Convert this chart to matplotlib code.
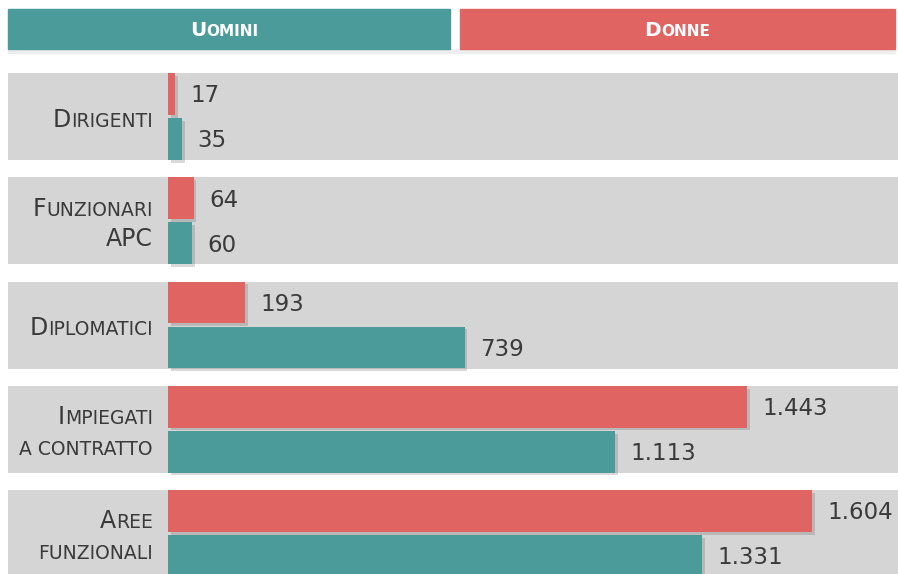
import matplotlib
matplotlib.use("Agg")
import matplotlib.pyplot as plt
import matplotlib.patheffects as pe
from matplotlib.patches import Rectangle


# DATA

categories = [
    ["Dirigenti"],
    ["Funzionari", "APC"],
    ["Diplomatici"],
    ["Impiegati", "a contratto"],
    ["Aree", "funzionali"],
]

donne = [17, 64, 193, 1443, 1604]
uomini = [35, 60, 739, 1113, 1331]

header_left = "Uomini"
header_right = "Donne"


# STYLE

teal = "#4b9b9b"
red = "#e06462"
band_gray = "#d5d5d5"
text_color = "#3a3a3a"

W, H = 898, 574
px_x = 0.4015          # pixels per unit on x
px_y = 104.25          # pixels per category row
x0_px = 168            # where the bars start
y0_px = 116.5          # centre of first row

xmin = -x0_px / px_x
xmax = (W - x0_px) / px_x
ytop = -y0_px / px_y
ybot = (H - y0_px) / px_y

bar_h = 0.40
bar_off = 0.216

plt.rcParams["font.family"] = ["DejaVu Sans"]

fig = plt.figure(figsize=(W / 100, H / 100), dpi=100)
fig.patch.set_facecolor("white")

ax = fig.add_axes([0, 0, 1, 1])
ax.set_xlim(xmin, xmax)
ax.set_ylim(ybot, ytop)
ax.axis("off")
ax.set_zorder(10)

renderer = fig.canvas.get_renderer()

shadow = [pe.SimplePatchShadow(offset=(2, -2), shadow_rgbFace="#555555", alpha=0.22), pe.Normal()]


def small_caps(x, y, word, big, small, ha="right", **kw):
    # split word into runs: capitals big, lowercase as smaller capitals
    runs = []
    for ch in word:
        size = big if ch.isupper() else small
        if runs and runs[-1][1] == size:
            runs[-1][0] += ch.upper()
        else:
            runs.append([ch.upper(), size])

    texts = []
    widths = []
    for s, size in runs:
        t = ax.text(0, y, s, fontsize=size, va="baseline", ha="left", **kw)
        texts.append(t)
        widths.append(t.get_window_extent(renderer).width / px_x)

    total = sum(widths)
    start = x - total if ha == "right" else x - total / 2
    for t, w in zip(texts, widths):
        t.set_x(start)
        start += w


# gray row bands
band_left = xmin + 8 / px_x
rows = list(range(len(categories)))

ax.barh(rows, xmax - band_left, left=band_left, height=87 / px_y,
        color=band_gray, zorder=1)

# bars
red_bars = ax.barh([r - bar_off for r in rows], donne, height=bar_h,
                   color=red, zorder=3)
teal_bars = ax.barh([r + bar_off for r in rows], uomini, height=bar_h,
                    color=teal, zorder=3)

for b in list(red_bars) + list(teal_bars):
    b.set_path_effects(shadow)


def fmt(v):
    return f"{v:,}".replace(",", ".")


for r in rows:
    ax.annotate(fmt(donne[r]), xy=(donne[r], r - bar_off), xytext=(11, -6),
                textcoords="offset points", va="baseline", ha="left",
                fontsize=16.5, color=text_color, zorder=4)
    ax.annotate(fmt(uomini[r]), xy=(uomini[r], r + bar_off), xytext=(11, -6),
                textcoords="offset points", va="baseline", ha="left",
                fontsize=16.5, color=text_color, zorder=4)

# category labels in small caps
label_x = (153 - x0_px) / px_x

for r, lines in enumerate(categories):
    if len(lines) == 1:
        offsets = [0.097]
    else:
        offsets = [-0.05, 0.245]
    for line, off in zip(lines, offsets):
        small_caps(label_x, r + off, line, 17, 13.5, ha="right",
                   color=text_color, zorder=4)

# header boxes
fig.add_artist(Rectangle((8 / W, 1 - 49 / H), 442 / W, 40 / H,
                         transform=fig.transFigure, color=teal, zorder=5))
fig.add_artist(Rectangle((460 / W, 1 - 49 / H), 435 / W, 40 / H,
                         transform=fig.transFigure, color=red, zorder=5))
fig.add_artist(Rectangle((8 / W, 1 - 53 / H), 887 / W, 4 / H,
                         transform=fig.transFigure, color="#eeeeee", zorder=4))

head_y = (36 - y0_px) / px_y
small_caps((224 - x0_px) / px_x, head_y, header_left, 14.5, 11, ha="center",
           color="white", fontweight="bold", zorder=6)
small_caps((677 - x0_px) / px_x, head_y, header_right, 14.5, 11, ha="center",
           color="white", fontweight="bold", zorder=6)

plt.savefig("out.png", dpi=100, facecolor="white")
